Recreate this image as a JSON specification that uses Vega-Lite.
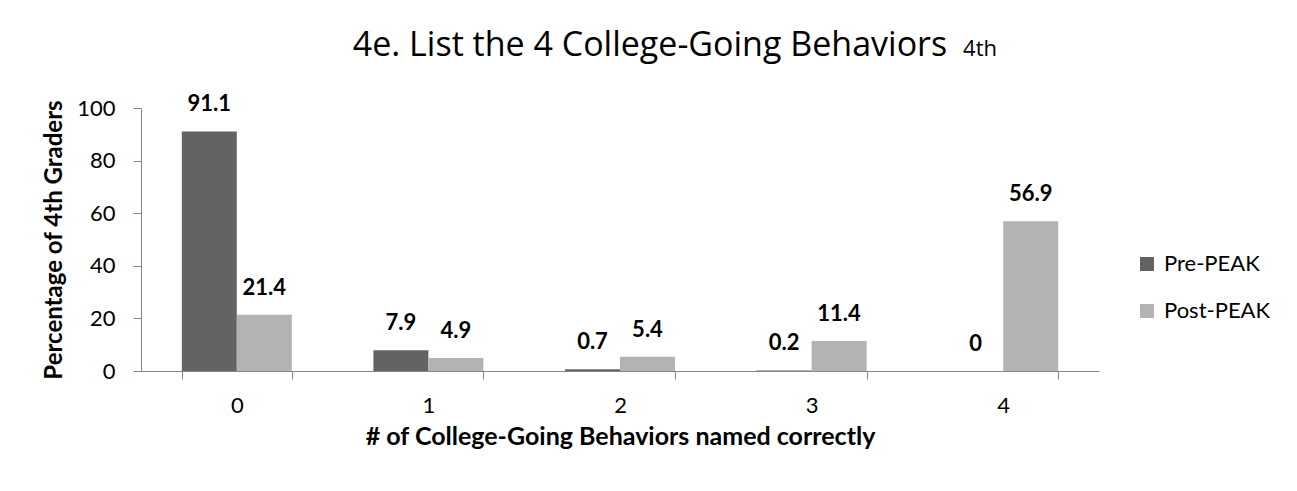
{
  "$schema": "https://vega.github.io/schema/vega-lite/v6.json",
  "width": 958,
  "height": 263,
  "autosize": {"type": "none"},
  "padding": {"left": 141, "top": 108, "right": 198, "bottom": 120},
  "background": "white",
  "title": {
    "text": "4e. List the 4 College-Going Behaviors\u00a0\u00a0\u00a0\u00a0\u00a0\u2009\u200b",
    "subtitle": "4th",
    "anchor": "end",
    "frame": "group",
    "dx": -102,
    "font": "Open Sans",
    "fontSize": 34,
    "fontWeight": "normal",
    "color": "#000000",
    "subtitleFont": "Open Sans",
    "subtitleFontSize": 22,
    "subtitleColor": "#000000",
    "subtitlePadding": -24.5,
    "offset": 30
  },
  "data": {
    "values": [
      {"behaviors": "0", "group": "Pre-PEAK", "pct": 91.1},
      {"behaviors": "0", "group": "Post-PEAK", "pct": 21.4},
      {"behaviors": "1", "group": "Pre-PEAK", "pct": 7.9},
      {"behaviors": "1", "group": "Post-PEAK", "pct": 4.9},
      {"behaviors": "2", "group": "Pre-PEAK", "pct": 0.7},
      {"behaviors": "2", "group": "Post-PEAK", "pct": 5.4},
      {"behaviors": "3", "group": "Pre-PEAK", "pct": 0.2},
      {"behaviors": "3", "group": "Post-PEAK", "pct": 11.4},
      {"behaviors": "4", "group": "Pre-PEAK", "pct": 0},
      {"behaviors": "4", "group": "Post-PEAK", "pct": 56.9}
    ]
  },
  "encoding": {
    "x": {
      "field": "behaviors",
      "type": "nominal",
      "sort": ["0", "1", "2", "3", "4"],
      "scale": {"paddingInner": 0.426, "paddingOuter": 0.213},
      "axis": {
        "title": "# of College-Going Behaviors named correctly",
        "labelAngle": 0,
        "tickBand": "extent",
        "labelPadding": 16,
        "titlePadding": 8,
        "titleFontSize": 25
      }
    },
    "xOffset": {
      "field": "group",
      "type": "nominal",
      "sort": ["Pre-PEAK", "Post-PEAK"],
      "scale": {"paddingInner": 0, "paddingOuter": 0}
    },
    "y": {
      "field": "pct",
      "type": "quantitative",
      "scale": {"domain": [0, 100], "nice": false},
      "axis": {
        "title": "Percentage of 4th Graders",
        "values": [0, 20, 40, 60, 80, 100],
        "grid": false,
        "labelPadding": 18,
        "titlePadding": 10,
        "titleFontSize": 24
      }
    }
  },
  "layer": [
    {
      "mark": {"type": "bar"},
      "encoding": {
        "color": {
          "field": "group",
          "type": "nominal",
          "sort": ["Pre-PEAK", "Post-PEAK"],
          "scale": {"domain": ["Pre-PEAK", "Post-PEAK"], "range": ["#636363", "#b3b3b3"]},
          "legend": {
            "title": null,
            "orient": "none",
            "legendX": 995,
            "legendY": 145,
            "symbolType": "square",
            "symbolSize": 196,
            "symbolStrokeWidth": 0,
            "labelFont": "Lato",
            "labelFontSize": 22,
            "labelColor": "#000000",
            "labelOffset": 6,
            "rowPadding": 25
          }
        }
      }
    },
    {
      "mark": {
        "type": "text",
        "font": "Lato",
        "fontSize": 22,
        "fontWeight": "bold",
        "color": "#000000",
        "baseline": "middle",
        "dy": -27
      },
      "encoding": {
        "text": {"field": "pct", "type": "quantitative"}
      }
    }
  ],
  "config": {
    "view": {"stroke": null},
    "axis": {
      "domainColor": "#868686",
      "tickColor": "#868686",
      "tickSize": 8,
      "labelFont": "Lato",
      "labelFontSize": 22,
      "labelColor": "#000000",
      "titleFont": "Lato",
      "titleFontWeight": "bold",
      "titleColor": "#000000"
    }
  }
}
